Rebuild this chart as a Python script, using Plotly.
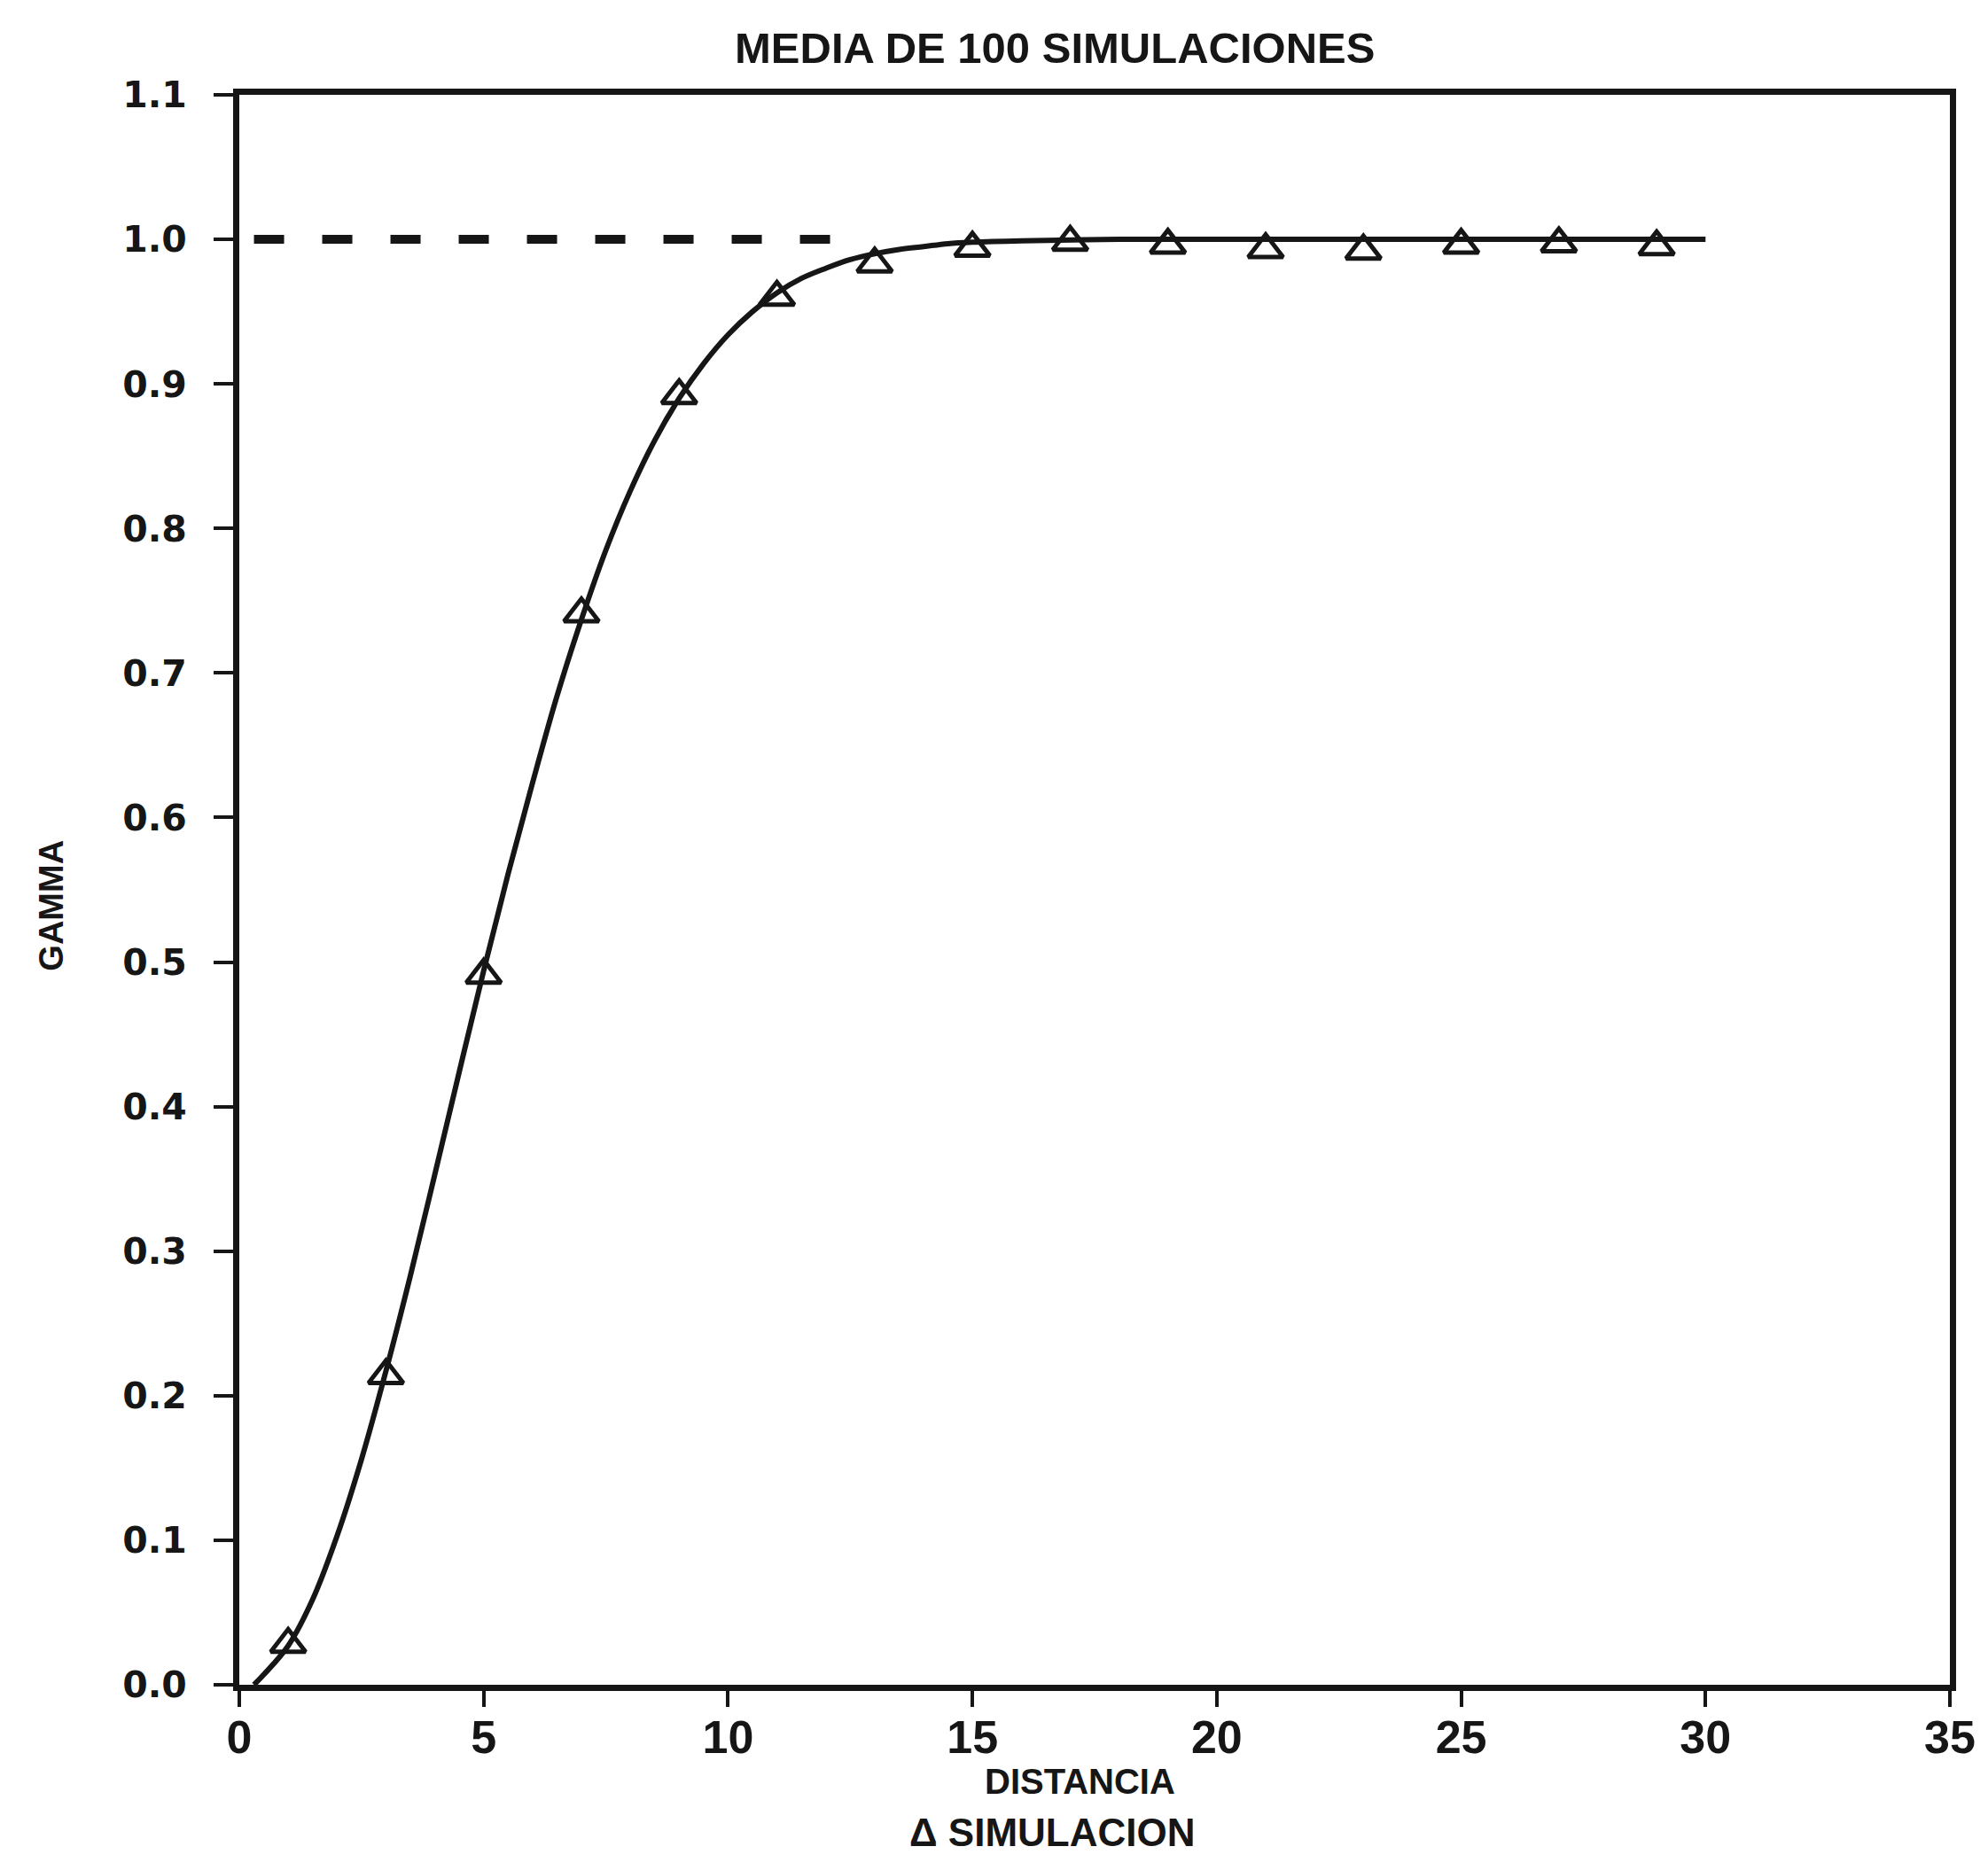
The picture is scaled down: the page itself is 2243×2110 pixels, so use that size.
import plotly.graph_objects as go

# Experimental semivariogram: mean of 100 simulations
lag_sim = [1, 3, 5, 7, 9, 11, 13, 15, 17, 19, 21, 23, 25, 27, 29]
gamma_sim = [0.028, 0.214, 0.491, 0.741, 0.892, 0.960, 0.983, 0.994,
             0.998, 0.996, 0.993, 0.992, 0.996, 0.997, 0.995]

# Fitted model curve
lag_model = [0.3, 0.5, 1.0, 1.5, 2.0, 2.5, 3.0, 3.5, 4.0, 4.5, 5.0, 5.5,
             6.0, 6.5, 7.0, 7.5, 8.0, 8.5, 9.0, 9.5, 10.0, 10.5, 11.0,
             11.5, 12.0, 12.5, 13.0, 13.5, 14.0, 14.5, 15.0, 16.0, 18.0,
             20.0, 25.0, 30.0]
gamma_model = [0.0, 0.007, 0.027, 0.059, 0.103, 0.156, 0.217, 0.283, 0.353,
               0.424, 0.494, 0.561, 0.624, 0.684, 0.737, 0.785, 0.826,
               0.861, 0.890, 0.914, 0.934, 0.950, 0.963, 0.973, 0.980,
               0.986, 0.990, 0.993, 0.995, 0.997, 0.998, 0.999, 1.0, 1.0,
               1.0, 1.0]

# Sill reference line
sill_x = [0.3, 12.2]
sill_y = [1.0, 1.0]

x_ticks = [0, 5, 10, 15, 20, 25, 30, 35]
y_ticks = [0.0, 0.1, 0.2, 0.3, 0.4, 0.5, 0.6, 0.7, 0.8, 0.9, 1.0, 1.1]
y_ticktext = ["0.0", "0.1", "0.2", "0.3", "0.4", "0.5", "0.6", "0.7",
              "0.8", "0.9", "1.0", "1.1"]

INK = "#161616"

fig = go.Figure()

fig.add_trace(go.Scatter(
    x=sill_x, y=sill_y, mode="lines",
    line=dict(color=INK, width=10, dash="34px,43px"),
    showlegend=False, hoverinfo="skip",
))

fig.add_trace(go.Scatter(
    x=lag_model, y=gamma_model, mode="lines",
    line=dict(color=INK, width=6, shape="spline", smoothing=1.0),
    showlegend=False,
))

fig.add_trace(go.Scatter(
    x=lag_sim, y=gamma_sim, mode="markers",
    marker=dict(symbol="triangle-up-open", size=34,
                color=INK, line=dict(color=INK, width=5)),
    showlegend=False,
))

axis_common = dict(
    showline=True, linewidth=7, linecolor=INK, mirror=True,
    ticks="outside", tickwidth=4, tickcolor=INK,
    showgrid=False, zeroline=False,
)

fig.update_xaxes(
    range=[0, 35], tickvals=x_ticks, ticklen=18, ticklabelstandoff=-10,
    tickfont=dict(family="Liberation Sans", size=52, color=INK, weight="bold"),
    **axis_common,
)
fig.update_yaxes(
    range=[0, 1.1], tickvals=y_ticks, ticktext=y_ticktext, ticklen=22,
    ticklabelstandoff=22,
    tickfont=dict(family="DejaVu Sans", size=41, color=INK, weight="bold"),
    **axis_common,
)

text_font = dict(family="Liberation Sans", color=INK, weight="bold")

fig.add_annotation(
    text="MEDIA DE 100 SIMULACIONES", xref="paper", yref="paper",
    x=0.4767, y=1.0295, xanchor="center", yanchor="middle",
    showarrow=False, font=dict(size=49, **text_font),
)
fig.add_annotation(
    text="DISTANCIA", xref="paper", yref="paper",
    x=0.4912, y=-0.0607, xanchor="center", yanchor="middle",
    showarrow=False, font=dict(size=40, **text_font),
)
fig.add_annotation(
    text="Δ SIMULACION", xref="paper", yref="paper",
    x=0.4756, y=-0.093, xanchor="center", yanchor="middle",
    showarrow=False, font=dict(size=44, **text_font),
)
fig.add_annotation(
    text="GAMMA", xref="paper", yref="paper",
    x=-0.11, y=0.49, xanchor="center", yanchor="middle", textangle=-90,
    showarrow=False, font=dict(size=38, **text_font),
)

fig.update_layout(
    width=2243, height=2110,
    margin=dict(l=270, r=43, t=107, b=209),
    paper_bgcolor="white", plot_bgcolor="white",
)

fig.write_html("out.html")
